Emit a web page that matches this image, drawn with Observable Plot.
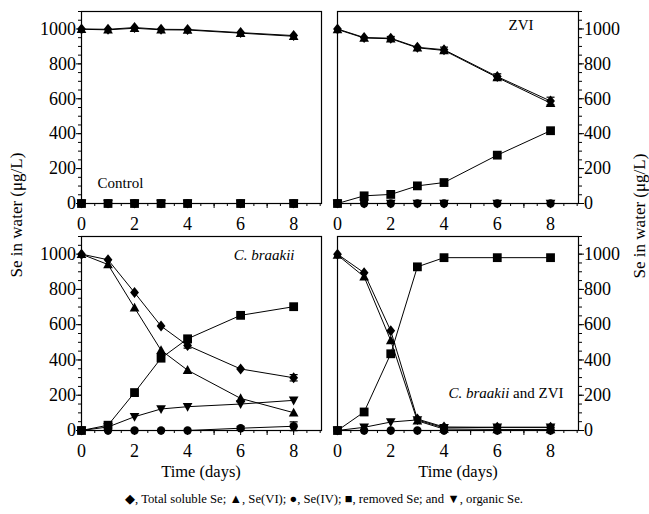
<!DOCTYPE html>
<html>
<head>
<meta charset="utf-8">
<script src="https://cdn.jsdelivr.net/npm/d3@7"></script>
<script src="https://cdn.jsdelivr.net/npm/@observablehq/plot@0.6"></script>
<style>
  html, body { margin: 0; padding: 0; background: white; }
  #chart { position: relative; width: 649px; height: 514px; background: white; font-family: "Liberation Serif", "Times New Roman", serif; color: black; }
  .panel { position: absolute; }
  .panel svg { overflow: visible; }
  .ylab { position: absolute; font-size: 17px; white-space: nowrap; transform: translate(-50%, -50%) rotate(-90deg); }
  .xlab { position: absolute; font-size: 16.5px; white-space: nowrap; transform: translate(-50%, -50%); }
  .caption { position: absolute; left: 324px; top: 499px; font-size: 12.7px; white-space: nowrap; transform: translate(-50%, -50%); }
</style>
</head>
<body>
<div id="chart"></div>
<script>
// ---- data ----
const days = [0, 1, 2, 3, 4, 6, 8];
const xTickLabels = [0, 2, 4, 6, 8];
const yTickLabels = [0, 200, 400, 600, 800, 1000];

// Control
const controlTotal   = [1000, 998, 1008, 998, 997, 979, 962];
const controlSeVI    = [998, 995, 1004, 995, 994, 976, 958];
const controlSeIV    = [0, 0, 0, 0, 0, 0, 0];
const controlRemoved = [0, 0, 0, 0, 0, 0, 0];
const controlOrganic = [0, 0, 0, 0, 0, 0, 0];

// ZVI
const zviTotal    = [1000, 951, 947, 895, 881, 727, 587];
const zviTotalErr = [0, 0, 10, 0, 15, 16, 22];
const zviSeVI     = [997, 948, 944, 892, 877, 722, 575];
const zviSeIV     = [0, 0, 0, 0, 0, 0, 0];
const zviRemoved  = [0, 44, 52, 101, 120, 277, 417];
const zviOrganic  = [0, 0, 0, 0, 0, 0, 0];

// C. braakii
const cbTotal    = [1000, 968, 782, 592, 482, 349, 299];
const cbTotalErr = [0, 0, 0, 0, 15, 0, 18];
const cbSeVI     = [1000, 941, 696, 455, 342, 182, 101];
const cbSeIV     = [0, 0, 0, 0, 0, 13, 24];
const cbSeIVErr  = [0, 0, 0, 0, 0, 10, 25];
const cbRemoved  = [0, 30, 215, 410, 520, 653, 702];
const cbOrganic  = [0, 20, 78, 122, 135, 150, 171];

// C. braakii and ZVI
const cbzTotal    = [1000, 894, 565, 65, 20, 18, 18];
const cbzTotalErr = [0, 0, 0, 0, 8, 10, 10];
const cbzSeVI     = [995, 872, 510, 55, 8, 6, 6];
const cbzSeIV     = [0, 0, 0, 0, 0, 0, 0];
const cbzRemoved  = [0, 105, 435, 928, 980, 980, 980];
const cbzOrganic  = [0, 18, 48, 60, 15, 18, 18];

const panelLabels = ["Control", "ZVI", "C. braakii", "C. braakii and ZVI"];
const yTitle = "Se in water (μg/L)";
const xTitle = "Time (days)";
const captionText = "◆, Total soluble Se; ▲, Se(VI); ●, Se(IV); ■, removed Se; and ▼, organic Se.";

// ---- symbols ----
const rad = size => Math.sqrt(size / Math.PI);
const diamond = {draw(c, s) { const r = rad(s); c.moveTo(0, -r * 1.25); c.lineTo(r, 0); c.lineTo(0, r * 1.25); c.lineTo(-r, 0); c.closePath(); }};
const triUp = {draw(c, s) { const r = rad(s); c.moveTo(0, -r * 1.15); c.lineTo(r * 1.1, r * 0.85); c.lineTo(-r * 1.1, r * 0.85); c.closePath(); }};
const triDown = {draw(c, s) { const r = rad(s); c.moveTo(0, r * 1.15); c.lineTo(r * 1.1, -r * 0.85); c.lineTo(-r * 1.1, -r * 0.85); c.closePath(); }};
const square = {draw(c, s) { const r = rad(s); c.rect(-r, -r, 2 * r, 2 * r); }};
const circle = {draw(c, s) { const r = rad(s); c.moveTo(r, 0); c.arc(0, 0, r, 0, 2 * Math.PI); }};
const cap = {draw(c, s) { const r = rad(s); c.moveTo(-r, 0); c.lineTo(r, 0); }};

const zeros = days.map(() => 0);
function rows(values, errs = zeros) {
  return days.map((d, i) => ({day: d, value: values[i], err: errs[i]}));
}

function seriesMarks(list) {
  const marks = [];
  for (const s of list) marks.push(Plot.line(rows(s.v), {x: "day", y: "value", stroke: "black", strokeWidth: 1}));
  for (const s of list) {
    if (s.e) {
      const d = rows(s.v, s.e).filter(r => r.err > 0);
      marks.push(Plot.ruleX(d, {x: "day", y1: r => r.value - r.err, y2: r => r.value + r.err, stroke: "black", strokeWidth: 1}));
      marks.push(Plot.dot(d, {x: "day", y: r => r.value + r.err, symbol: cap, r: 4, stroke: "black", fill: "none", strokeWidth: 1.2}));
      marks.push(Plot.dot(d, {x: "day", y: r => r.value - r.err, symbol: cap, r: 4, stroke: "black", fill: "none", strokeWidth: 1.2}));
    }
  }
  for (const s of list) marks.push(Plot.dot(rows(s.v), {x: "day", y: "value", symbol: s.sym, r: s.r, fill: "black", stroke: "none"}));
  return marks;
}

function panel(cfg) {
  const side = cfg.side;
  const p = Plot.plot({
    width: cfg.width, height: cfg.height,
    marginLeft: cfg.mL, marginRight: cfg.mR, marginTop: cfg.mT, marginBottom: cfg.mB,
    style: {fontFamily: "'Liberation Serif', 'Times New Roman', serif", fontSize: "18px", color: "black", background: "transparent", overflow: "visible"},
    x: {domain: [0, 9.05]},
    y: {domain: [0, 1100]},
    marks: [
      Plot.axisX({ticks: d3.range(0, 9.01, 0.5), tickSize: 3, tickFormat: () => "", label: null, strokeWidth: 1}),
      Plot.axisX({ticks: d3.range(0, 9, 1), tickSize: 5, tickPadding: 9, tickFormat: d => (xTickLabels.includes(d) ? String(d) : ""), label: null, strokeWidth: 1}),
      Plot.axisY({anchor: side, ticks: d3.range(0, 1101, 50), tickSize: 3, tickFormat: () => "", label: null, strokeWidth: 1}),
      Plot.axisY({anchor: side, ticks: yTickLabels, tickSize: 5, tickPadding: 0.5, tickFormat: d => String(d), label: null, strokeWidth: 1}),
      Plot.frame({stroke: "black", strokeWidth: 1.2}),
      ...seriesMarks(cfg.series),
      Plot.text([cfg.label], {text: d => d, frameAnchor: cfg.anchor, dx: cfg.dx, dy: cfg.dy, textAnchor: cfg.textAnchor, lineAnchor: "middle", fontSize: 15, fontStyle: cfg.italic ? "italic" : "normal", fill: "black"})
    ]
  });
  if (cfg.mixed) {
    p.querySelectorAll("text").forEach(t => {
      if (t.textContent === cfg.label) {
        t.textContent = "";
        const a = document.createElementNS("http://www.w3.org/2000/svg", "tspan");
        a.setAttribute("font-style", "italic");
        a.textContent = cfg.mixed[0];
        const b = document.createElementNS("http://www.w3.org/2000/svg", "tspan");
        b.textContent = cfg.mixed[1];
        t.appendChild(a); t.appendChild(b);
      }
    });
  }
  const wrap = document.createElement("div");
  wrap.className = "panel";
  wrap.style.left = cfg.left + "px";
  wrap.style.top = cfg.top + "px";
  wrap.appendChild(p);
  return wrap;
}

const R = {d: 4.4, t: 4.4, c: 4.2, s: 4.4};
function makeSeries(total, totalErr, vi, iv, ivErr, removed, organic) {
  return [
    {v: removed, sym: square, r: R.s},
    {v: organic, sym: triDown, r: R.t},
    {v: iv, sym: circle, r: R.c, e: ivErr},
    {v: vi, sym: triUp, r: R.t},
    {v: total, sym: diamond, r: R.d, e: totalErr}
  ];
}

const chart = document.getElementById("chart");
chart.appendChild(panel({left: 0, top: 0, width: 330, height: 232, mL: 81, mR: 9, mT: 11, mB: 29, side: "left",
  series: makeSeries(controlTotal, null, controlSeVI, controlSeIV, null, controlRemoved, controlOrganic),
  label: panelLabels[0], anchor: "bottom-left", dx: 16, dy: -20, textAnchor: "start"}));
chart.appendChild(panel({left: 330, top: 0, width: 319, height: 232, mL: 7, mR: 71, mT: 11, mB: 29, side: "right",
  series: makeSeries(zviTotal, zviTotalErr, zviSeVI, zviSeIV, null, zviRemoved, zviOrganic),
  label: panelLabels[1], anchor: "top-right", dx: -45, dy: 14, textAnchor: "end"}));
chart.appendChild(panel({left: 0, top: 232, width: 330, height: 230, mL: 81, mR: 9, mT: 4, mB: 32, side: "left",
  series: makeSeries(cbTotal, cbTotalErr, cbSeVI, cbSeIV, cbSeIVErr, cbRemoved, cbOrganic),
  label: panelLabels[2], anchor: "top-right", dx: -27, dy: 19, textAnchor: "end", italic: true}));
chart.appendChild(panel({left: 330, top: 232, width: 319, height: 230, mL: 7, mR: 71, mT: 4, mB: 32, side: "right",
  series: makeSeries(cbzTotal, cbzTotalErr, cbzSeVI, cbzSeIV, null, cbzRemoved, cbzOrganic),
  label: panelLabels[3], anchor: "bottom-right", dx: -15, dy: -37, textAnchor: "end", mixed: ["C. braakii", " and ZVI"]}));

function addText(cls, text, x, y) {
  const d = document.createElement("div");
  d.className = cls;
  d.textContent = text;
  if (x != null) { d.style.left = x + "px"; d.style.top = y + "px"; }
  chart.appendChild(d);
}
addText("ylab", yTitle, 17, 215);
addText("ylab", yTitle, 640, 216);
addText("xlab", xTitle, 201, 472);
addText("xlab", xTitle, 458, 472);
addText("caption", captionText);
</script>
</body>
</html>
